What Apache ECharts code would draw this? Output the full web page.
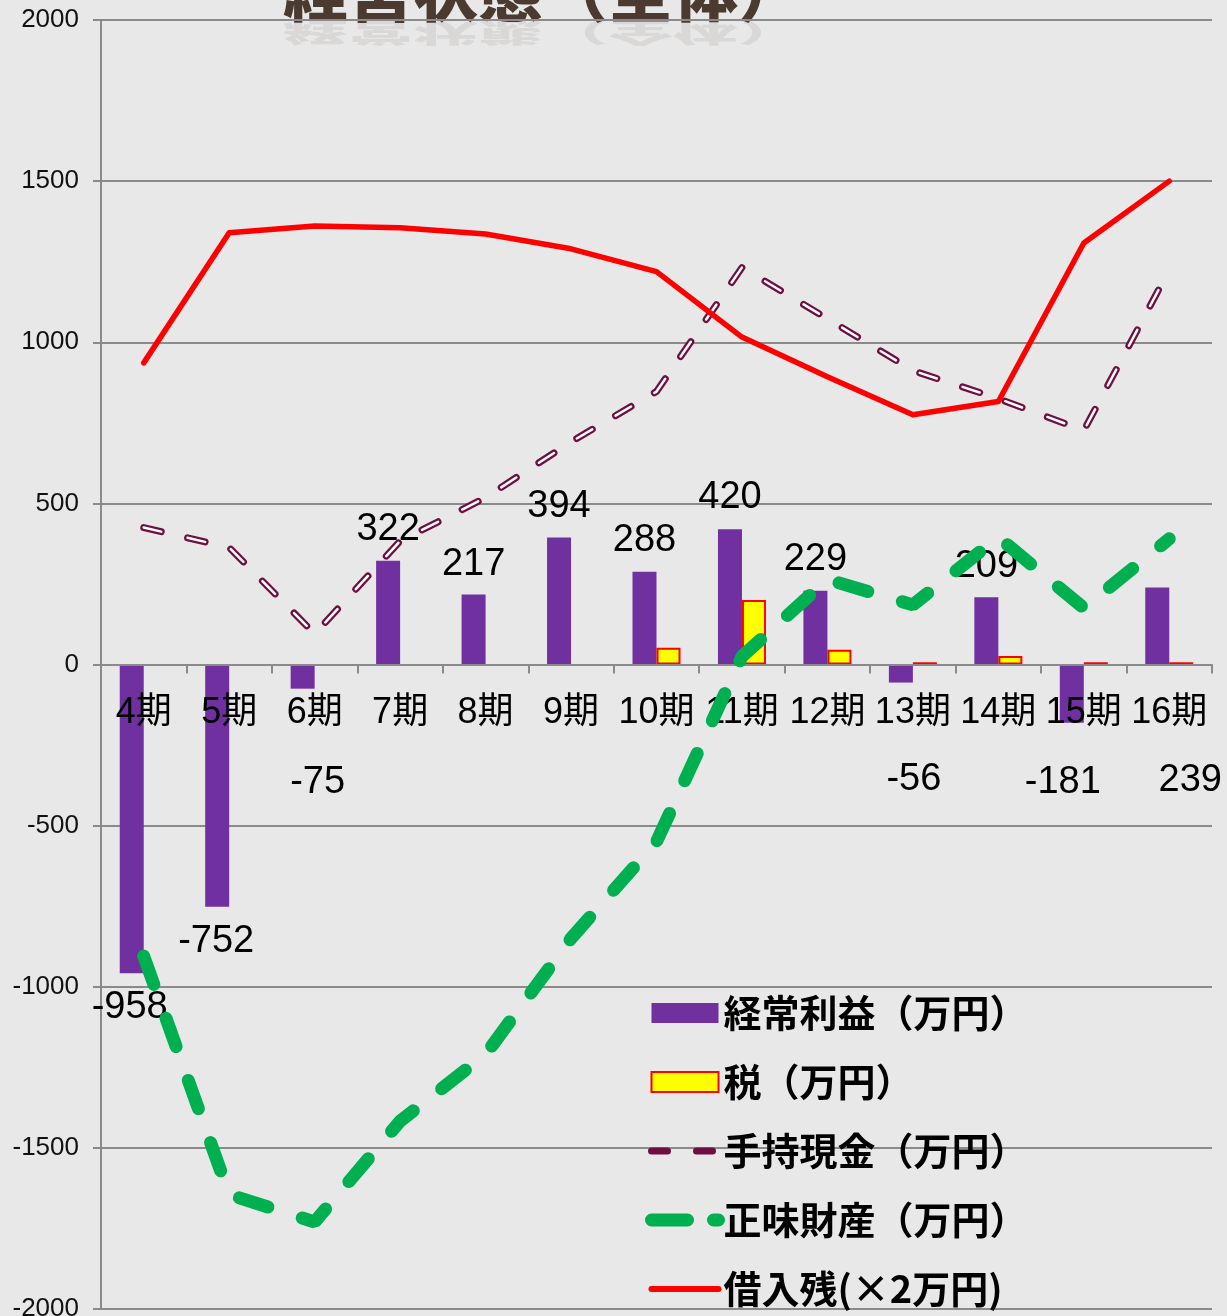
<!DOCTYPE html>
<html>
<head>
<meta charset="utf-8">
<script src="https://cdn.jsdelivr.net/npm/echarts@6/dist/echarts.min.js"></script>
<style>
html,body{margin:0;padding:0;background:#e8e8e8;}
#chart{width:1227px;height:1316px;}
</style>
</head>
<body>
<div id="chart"></div>
<script>
// ---- data ----
const categories = ['4期','5期','6期','7期','8期','9期','10期','11期','12期','13期','14期','15期','16期'];
const profit   = [-958, -752, -75, 322, 217, 394, 288, 420, 229, -56, 209, -181, 239];
const tax      = [null, null, null, null, null, null, 52, 200, 46, 7, 26, 7, 7];
const cash     = [425, 363, 95, 383, 518, 691, 847, 1232, 1073, 912, 825, 726, 1225];
const netWorth = [-905, -1645, -1730, -1417, -1210, -850, -550, 25, 264, 185, 395, 175, 390];
const debt     = [936, 1340, 1361, 1355, 1336, 1290, 1219, 1016, 893, 775, 816, 1308, 1500];
const yTicks   = {min: -2000, max: 2000, interval: 500};

const seriesNames = ['経常利益（万円）','税（万円）','手持現金（万円）','正味財産（万円）','借入残(×2万円)'];
const titleText = '経営状態（全体）';

// ---- label placement (style only) ----
const labelPlacement = [
  {position:'bottom', distance:15, offset:[-2,0]},
  {position:'bottom', distance:16, offset:[-1,0]},
  {position:'bottom', distance:75, offset:[15,0]},
  {position:'top', distance:12},
  {position:'top', distance:11},
  {position:'top', distance:12},
  {position:'top', distance:12},
  {position:'top', distance:13},
  {position:'top', distance:12},
  {position:'bottom', distance:78, offset:[13,0]},
  {position:'top', distance:12},
  {position:'bottom', distance:41, offset:[-9,0]},
  {position:'bottom', distance:97, offset:[33,0]}
];

const FONT = "'Liberation Sans', 'Noto Sans CJK JP', sans-serif";
const CJK = "'Noto Sans CJK JP', 'Liberation Sans', sans-serif";
const GRID_COLOR = '#8a8a8a';
const GRID = {left: 101, right: 15, top: 20, bottom: 7};
const CHART_H = 1316;
// distance from grid bottom edge up to the zero line (zero is the middle of the symmetric axis)
const zeroOffset = -((CHART_H - GRID.top - GRID.bottom) / 2);

const chart = echarts.init(document.getElementById('chart'), null, {renderer:'canvas'});

const option = {
  backgroundColor: '#e8e8e8',
  animation: false,
  textStyle: {fontFamily: FONT},
  graphic: [
    {
      type: 'text', z: 0,
      x: 543, y: 20, scaleY: -0.4, originY: 0,
      style: {
        text: titleText, fontSize: 65, fontWeight: 900, fontFamily: CJK,
        textAlign: 'center', textVerticalAlign: 'bottom',
        fill: 'rgba(75,58,47,0.09)'
      }
    },
    {
      type: 'text', z: 0,
      x: 543, y: 24,
      style: {
        text: titleText, fontSize: 65, fontWeight: 900, fontFamily: CJK,
        textAlign: 'center', textVerticalAlign: 'bottom', fill: '#4b3a2f'
      }
    }
  ],
  grid: Object.assign({containLabel: false, outerBoundsMode: 'none'}, GRID),
  legend: {
    orient: 'vertical',
    left: 640, top: 988, height: 400,
    itemWidth: 67, itemHeight: 20, itemGap: 29,
    textStyle: {fontSize: 38, fontWeight: 'bold', color: '#000', lineHeight: 40, fontFamily: CJK},
    data: [
      {name: seriesNames[0], icon: 'rect'},
      {name: seriesNames[1], icon: 'rect'},
      {name: seriesNames[2], itemStyle: {opacity: 0},
        lineStyle: {color: '#6e0f40', width: 7, type: [16, 29], cap: 'round'}},
      {name: seriesNames[3], itemStyle: {opacity: 0},
        lineStyle: {color: '#00b050', width: 13, type: [36, 26], cap: 'round'}},
      {name: seriesNames[4], itemStyle: {opacity: 0},
        lineStyle: {color: '#ff0000', width: 6, cap: 'round'}}
    ]
  },
  xAxis: {
    type: 'category',
    data: categories,
    position: 'bottom',
    offset: zeroOffset,
    z: 3,
    axisLine: {onZero: false, lineStyle: {color: GRID_COLOR, width: 2}},
    axisTick: {show: true, length: 9, lineStyle: {color: GRID_COLOR, width: 2}},
    axisLabel: {fontSize: 36, color: '#000', margin: 31, fontFamily: FONT, interval: 0},
    splitLine: {show: false}
  },
  yAxis: {
    type: 'value',
    min: yTicks.min, max: yTicks.max, interval: yTicks.interval,
    axisLine: {show: true, lineStyle: {color: GRID_COLOR, width: 2}},
    axisTick: {show: true, length: 8, lineStyle: {color: GRID_COLOR, width: 2}},
    axisLabel: {fontSize: 26, color: '#111', margin: 22, fontFamily: FONT, formatter: v => String(v)},
    splitLine: {show: true, lineStyle: {color: GRID_COLOR, width: 2}}
  },
  series: [
    {
      name: seriesNames[0], type: 'bar', z: 2,
      barWidth: 24, barGap: '0%',
      itemStyle: {color: '#7030a0'},
      data: profit.map((v, i) => ({
        value: v,
        label: Object.assign({show: true, fontSize: 38, color: '#000', fontFamily: FONT}, labelPlacement[i])
      }))
    },
    {
      name: seriesNames[1], type: 'bar', z: 2,
      barWidth: 24, barGap: '0%',
      itemStyle: {color: '#ffff00', borderColor: '#ff0000', borderWidth: 2},
      data: tax
    },
    {
      name: seriesNames[2], type: 'line', z: 4,
      symbol: 'none',
      lineStyle: {color: '#6e0f40', width: 7, type: [18, 27], cap: 'round'},
      itemStyle: {color: '#6e0f40'},
      data: cash
    },
    {
      name: 'cashInner', type: 'line', z: 5,
      symbol: 'none', silent: true,
      lineStyle: {color: '#ffffff', width: 2.5, type: [18, 27], cap: 'round'},
      data: cash
    },
    {
      name: seriesNames[3], type: 'line', z: 6,
      symbol: 'none',
      lineStyle: {color: '#00b050', width: 13, type: [30, 36], cap: 'round'},
      itemStyle: {color: '#00b050'},
      data: netWorth
    },
    {
      name: seriesNames[4], type: 'line', z: 7,
      symbol: 'none',
      lineStyle: {color: '#ff0000', width: 5.5, cap: 'round', join: 'round'},
      itemStyle: {color: '#ff0000'},
      data: debt
    }
  ]
};
chart.setOption(option);
</script>
</body>
</html>
